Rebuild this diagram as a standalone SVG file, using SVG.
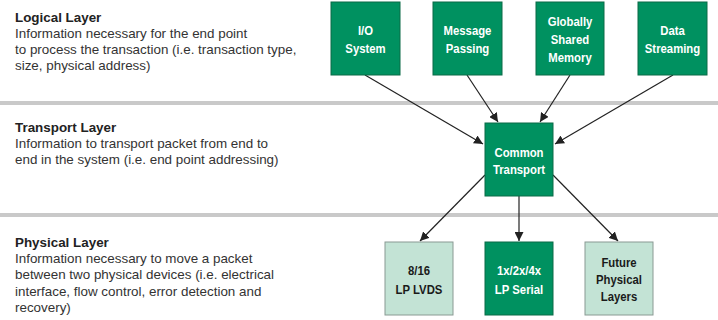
<svg xmlns="http://www.w3.org/2000/svg" width="718" height="320" viewBox="0 0 718 320">
<style>
.title{font-family:"Liberation Sans",Arial,sans-serif;font-size:13.4px;font-weight:bold;fill:#222}
.desc{font-family:"Liberation Sans",Arial,sans-serif;font-size:13.4px;fill:#333}
.dark{fill:#009160;stroke:#0a6b47;stroke-width:1}
.light{fill:#c3e3d5;stroke:#8a9a93;stroke-width:1}
.lbl{font-family:"Liberation Sans",Arial,sans-serif;font-size:13.5px;font-weight:bold;text-anchor:middle}
.w{fill:#fff}
.k{fill:#1a1a1a}
.band{fill:#c9c9c9}
.conn{stroke:#222;stroke-width:1.2;fill:none}
</style>
<defs>
<marker id="ah" viewBox="0 0 10 10" refX="10" refY="5" markerWidth="9" markerHeight="9" markerUnits="userSpaceOnUse" orient="auto">
<path d="M0,0 L10,5 L0,10 z" fill="#222"/>
</marker>
</defs>
<rect width="718" height="320" fill="#fff"/>
<g id="bands">
<rect class="band" x="0" y="101" width="718" height="4"/>
<rect class="band" x="0" y="213" width="718" height="4"/>
</g>
<g id="text-logical">
<text class="title" x="15" y="22">Logical Layer</text>
<text class="desc" x="15" y="38">Information necessary for the end point</text>
<text class="desc" x="15" y="54">to process the transaction (i.e. transaction type,</text>
<text class="desc" x="15" y="70">size, physical address)</text>
</g>
<g id="text-transport">
<text class="title" x="15" y="132">Transport Layer</text>
<text class="desc" x="15" y="148">Information to transport packet from end to</text>
<text class="desc" x="15" y="164">end in the system (i.e. end point addressing)</text>
</g>
<g id="text-physical">
<text class="title" x="15" y="247">Physical Layer</text>
<text class="desc" x="15" y="263">Information necessary to move a packet</text>
<text class="desc" x="15" y="279">between two physical devices (i.e. electrical</text>
<text class="desc" x="15" y="296">interface, flow control, error detection and</text>
<text class="desc" x="15" y="312">recovery)</text>
</g>
<g id="connectors">
<line class="conn" x1="365" y1="75" x2="483" y2="144" marker-end="url(#ah)"/>
<line class="conn" x1="467" y1="75" x2="498" y2="122" marker-end="url(#ah)"/>
<line class="conn" x1="570" y1="75" x2="540" y2="122" marker-end="url(#ah)"/>
<line class="conn" x1="673" y1="75" x2="555" y2="144" marker-end="url(#ah)"/>
<line class="conn" x1="485" y1="175" x2="420" y2="241" marker-end="url(#ah)"/>
<line class="conn" x1="519" y1="196" x2="519" y2="241" marker-end="url(#ah)"/>
<line class="conn" x1="553" y1="175" x2="618" y2="241" marker-end="url(#ah)"/>
</g>
<g id="io-system">
<rect class="dark" x="331" y="2" width="69" height="73"/>
<text class="lbl w" transform="translate(365.5 0) scale(0.84 1)" x="0" y="35">I/O</text>
<text class="lbl w" transform="translate(365.5 0) scale(0.84 1)" x="0" y="53">System</text>
</g>
<g id="message-passing">
<rect class="dark" x="433" y="2" width="69" height="73"/>
<text class="lbl w" transform="translate(467.5 0) scale(0.84 1)" x="0" y="35">Message</text>
<text class="lbl w" transform="translate(467.5 0) scale(0.84 1)" x="0" y="53">Passing</text>
</g>
<g id="globally-shared-memory">
<rect class="dark" x="536" y="2" width="68" height="73"/>
<text class="lbl w" transform="translate(570 0) scale(0.84 1)" x="0" y="26">Globally</text>
<text class="lbl w" transform="translate(570 0) scale(0.84 1)" x="0" y="44">Shared</text>
<text class="lbl w" transform="translate(570 0) scale(0.84 1)" x="0" y="62">Memory</text>
</g>
<g id="data-streaming">
<rect class="dark" x="638" y="2" width="69" height="73"/>
<text class="lbl w" transform="translate(672.5 0) scale(0.84 1)" x="0" y="35">Data</text>
<text class="lbl w" transform="translate(672.5 0) scale(0.84 1)" x="0" y="53">Streaming</text>
</g>
<g id="common-transport">
<rect class="dark" x="485" y="123" width="68" height="73"/>
<text class="lbl w" transform="translate(519 0) scale(0.84 1)" x="0" y="157">Common</text>
<text class="lbl w" transform="translate(519 0) scale(0.84 1)" x="0" y="174">Transport</text>
</g>
<g id="lp-lvds">
<rect class="light" x="385" y="242" width="68" height="73"/>
<text class="lbl k" transform="translate(419 0) scale(0.84 1)" x="0" y="275">8/16</text>
<text class="lbl k" transform="translate(419 0) scale(0.84 1)" x="0" y="294">LP LVDS</text>
</g>
<g id="lp-serial">
<rect class="dark" x="485" y="242" width="68" height="73"/>
<text class="lbl w" transform="translate(519 0) scale(0.84 1)" x="0" y="275">1x/2x/4x</text>
<text class="lbl w" transform="translate(519 0) scale(0.84 1)" x="0" y="294">LP Serial</text>
</g>
<g id="future-physical">
<rect class="light" x="585" y="242" width="68" height="73"/>
<text class="lbl k" transform="translate(619 0) scale(0.84 1)" x="0" y="267">Future</text>
<text class="lbl k" transform="translate(619 0) scale(0.84 1)" x="0" y="284">Physical</text>
<text class="lbl k" transform="translate(619 0) scale(0.84 1)" x="0" y="301">Layers</text>
</g>
</svg>
